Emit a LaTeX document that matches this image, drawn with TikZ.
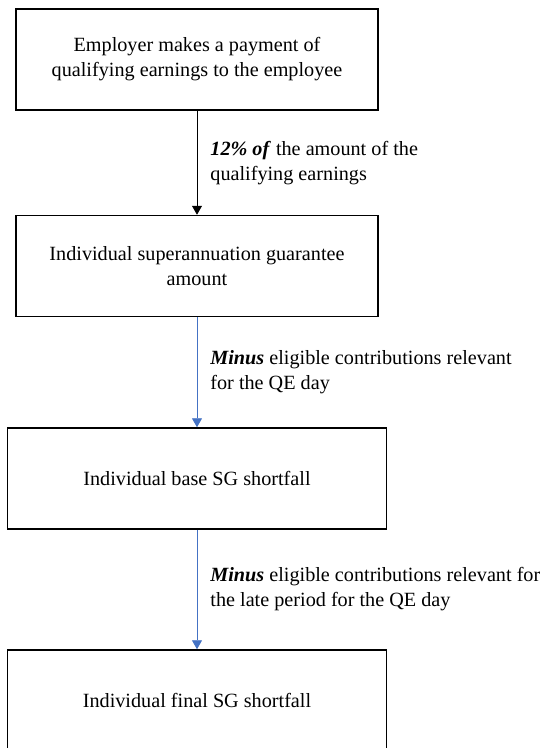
\documentclass[tikz,border=0pt]{standalone}
\usepackage{fontspec}
\setmainfont{Liberation Serif}
\usetikzlibrary{arrows.meta}
\definecolor{flowblue}{RGB}{68,114,196}
\begin{document}
\begin{tikzpicture}[x=1pt,y=1pt,
        sgbox/.style={draw,line width=1.5pt,minimum width=362pt,minimum height=101pt,
            inner sep=0pt,align=center,font=\fontsize{20.2}{25}\selectfont},
        widebox/.style={sgbox,minimum width=379pt},
        steptext/.style={right,xshift=13pt,inner sep=0pt,align=left,
            font=\fontsize{20.2}{25}\selectfont},
        flow/.style={-{Triangle[width=10pt,length=9pt]},line width=0.8pt}]
    \useasboundingbox (0,0) rectangle (540,-748);
    \node[sgbox] (payment) at (197,-59.5) {Employer makes a payment of\\qualifying earnings to the employee};
    \node[sgbox] (guarantee) at (197,-266) {Individual superannuation guarantee\\amount};
    \node[widebox] (base) at (197,-478.5) {Individual base SG shortfall};
    \node[widebox] (final) at (197,-700.5) {Individual final SG shortfall};
    \draw[flow] (payment) -- node[steptext] {\textbf{\textit{12\% of}} the amount of the\\qualifying earnings} (guarantee);
    \draw[flow,flowblue] (guarantee) -- node[steptext,text=black] {\textbf{\textit{Minus}} eligible contributions relevant\\for the QE day} (base);
    \draw[flow,flowblue] (base) -- node[steptext,text=black] {\textbf{\textit{Minus}} eligible contributions relevant for\\the late period for the QE day} (final);
\end{tikzpicture}
\end{document}
